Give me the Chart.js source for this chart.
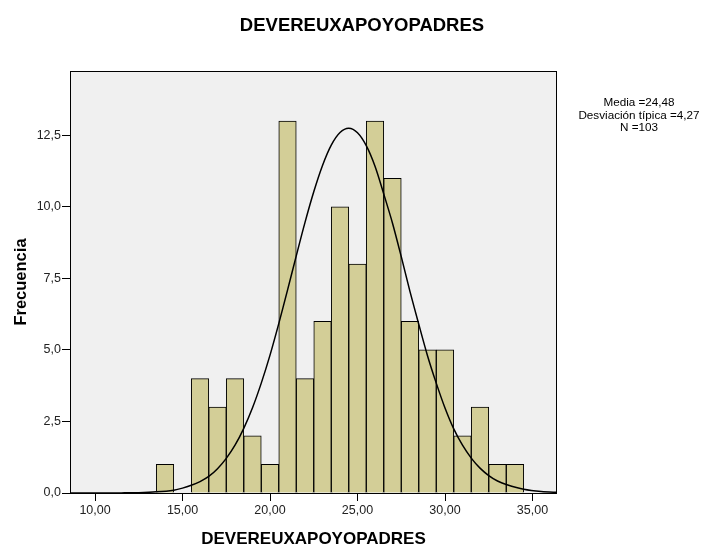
<!DOCTYPE html>
<html>
<head>
<meta charset="utf-8">
<script src="https://cdn.jsdelivr.net/npm/chart.js@4/dist/chart.umd.min.js"></script>
<style>
  html, body { margin: 0; padding: 0; background: #fff; }
  #wrap { width: 715px; height: 547px; }
</style>
</head>
<body>
<div id="wrap"><canvas id="histo" width="715" height="547"></canvas></div>
<script>
// histogram bins (centre of each 1-wide bin) and counts
var binCenters = [14, 15, 16, 17, 18, 19, 20, 21, 22, 23, 24, 25, 26, 27, 28, 29, 30, 31, 32, 33, 34];
var counts     = [1, 0, 4, 3, 4, 2, 1, 13, 4, 6, 10, 8, 13, 11, 6, 5, 5, 2, 3, 1, 1];

// normal curve
var curveX = [8.5, 9.5, 10.5, 11.5, 12.5, 13.5, 14.5, 15, 15.5, 16, 16.5, 17, 17.5, 18, 18.5, 19, 19.5, 20, 20.5, 21, 21.5, 22, 22.5, 23, 23.5, 24, 24.5, 25, 25.5, 26, 26.5, 27, 27.5, 28, 28.5, 29, 29.5, 30, 30.5, 31, 31.5, 32, 32.5, 33, 33.5, 34.5, 35.5, 36.5];
var curveY = [0, 0, 0.001, 0.004, 0.012, 0.04, 0.1, 0.17, 0.27, 0.4, 0.58, 0.85, 1.21, 1.67, 2.26, 2.98, 3.84, 4.82, 5.92, 7.09, 8.29, 9.46, 10.53, 11.45, 12.16, 12.6, 12.75, 12.59, 12.14, 11.42, 10.45, 9.43, 8.26, 7.04, 5.9, 4.8, 3.84, 2.97, 2.24, 1.67, 1.22, 0.87, 0.61, 0.42, 0.3, 0.13, 0.05, 0.02];

var xTicks = [10, 15, 20, 25, 30, 35];
var yTicks = [0, 2.5, 5, 7.5, 10, 12.5];

var chartTitle = "DEVEREUXAPOYOPADRES";
var xTitle = "DEVEREUXAPOYOPADRES";
var yTitle = "Frecuencia";
var statsLines = ["Media =24,48", "Desviación típica =4,27", "N =103"];

var FONT = "'Liberation Sans', Arial, Helvetica, sans-serif";

var barData = binCenters.map(function(c, i){ return {x: c, y: counts[i]}; });
var lineData = curveX.map(function(c, i){ return {x: c, y: curveY[i]}; });

var frame = {
    id: 'frame',
    beforeDatasetsDraw: function(chart){
        var a = chart.chartArea, c = chart.ctx;
        c.save();
        c.fillStyle = '#f0f0f0';
        c.fillRect(a.left, a.top, a.right - a.left, a.bottom - a.top);
        c.restore();
    },
    afterDatasetsDraw: function(chart){
        var a = chart.chartArea, c = chart.ctx;
        c.save();
        c.strokeStyle = '#000';
        c.lineWidth = 1;
        c.strokeRect(a.left + 0.5, a.top + 0.5, a.right - a.left - 1, a.bottom - a.top);
        c.fillStyle = '#000';
        c.textAlign = 'center';
        c.textBaseline = 'middle';
        c.font = 'bold 18.5px ' + FONT;
        c.fillText(chartTitle, 362, 26);
        c.font = '11.7px ' + FONT;
        for (var i = 0; i < statsLines.length; i++) {
            c.fillText(statsLines[i], 639, 103 + i * 12.5);
        }
        c.restore();
    }
};

var ctx = document.getElementById("histo").getContext("2d");
new Chart(ctx, {
    data: {
        datasets: [
            {
                type: 'line',
                data: lineData,
                borderColor: '#000',
                borderWidth: 1.5,
                pointRadius: 0,
                tension: 0.3,
                fill: false,
                order: 0
            },
            {
                type: 'bar',
                data: barData,
                backgroundColor: '#d3ce97',
                borderColor: '#000',
                borderWidth: 1,
                barPercentage: 1,
                categoryPercentage: 1,
                order: 1
            }
        ]
    },
    options: {
        responsive: false,
        animation: false,
        layout: { padding: { top: 71, right: 158, left: 0, bottom: 0 } },
        plugins: {
            legend: { display: false },
            tooltip: { enabled: false },
            title: { display: false }
        },
        scales: {
            x: {
                type: 'linear',
                offset: false,
                min: 8.57,
                max: 36.4,
                afterFit: function(s){ s.height = 54; },
                afterBuildTicks: function(s){ s.ticks = xTicks.map(function(v){ return {value: v}; }); },
                border: { display: false },
                grid: { offset: false, drawOnChartArea: false, drawTicks: true, tickLength: 8, color: '#000' },
                ticks: {
                    padding: 2,
                    color: '#222',
                    font: { family: FONT, size: 12.5 },
                    maxRotation: 0,
                    callback: function(v){ return v.toFixed(2).replace('.', ','); }
                },
                title: {
                    display: true,
                    text: xTitle,
                    color: '#000',
                    font: { family: FONT, size: 17, weight: 'bold' },
                    padding: { top: 0, bottom: -3 }
                }
            },
            y: {
                type: 'linear',
                min: 0,
                max: 14.75,
                afterFit: function(s){ s.width = 70; },
                afterBuildTicks: function(s){ s.ticks = yTicks.map(function(v){ return {value: v}; }); },
                border: { display: false },
                grid: { drawOnChartArea: false, drawTicks: true, tickLength: 8, color: '#000' },
                ticks: {
                    padding: 1,
                    color: '#222',
                    font: { family: FONT, size: 12.5 },
                    callback: function(v){ return v.toFixed(1).replace('.', ','); }
                },
                title: {
                    display: true,
                    text: yTitle,
                    color: '#000',
                    font: { family: FONT, size: 16.5, weight: 'bold' },
                    padding: { top: 12, bottom: 0 }
                }
            }
        }
    },
    plugins: [frame]
});
</script>
</body>
</html>
